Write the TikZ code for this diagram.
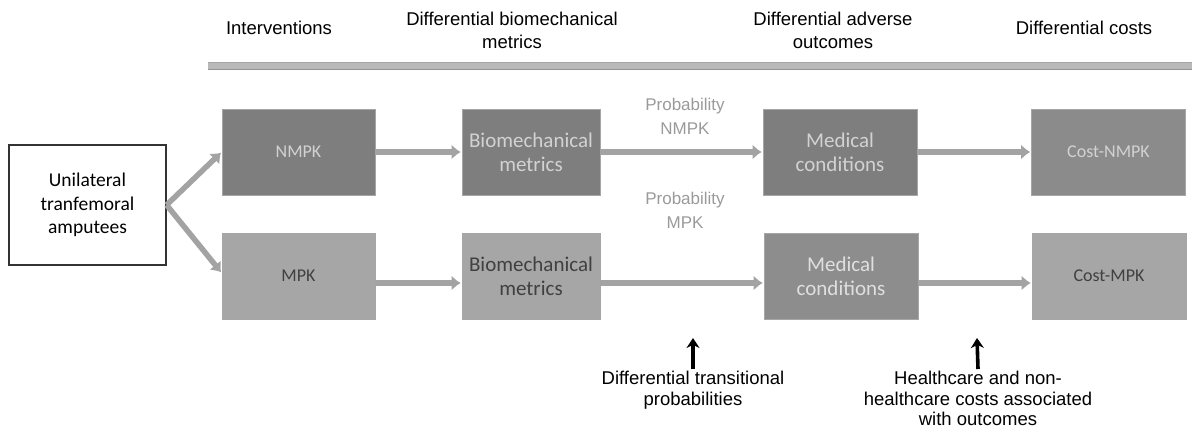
\documentclass[tikz,border=0pt]{standalone}
\usepackage{fontspec}
\setmainfont{Liberation Sans}
\newfontfamily\boxfont{Carlito}
\usetikzlibrary{arrows.meta}
\definecolor{topfill}{HTML}{7E7E7E}
\definecolor{botfill}{HTML}{A6A6A6}
\definecolor{arrowgray}{HTML}{A3A3A3}
\definecolor{probgray}{HTML}{9A9A9A}
\tikzset{
  header/.style={align=center, font=\fontsize{18.5}{23}\selectfont, text=black},
  stage/.style={draw=gray!70, line width=0.6pt, minimum width=154pt, minimum height=86pt,
    align=center, font=\boxfont\fontsize{18}{22}\selectfont, inner sep=1pt},
  bigtext/.style={font=\boxfont\fontsize{21}{24}\selectfont},
  toprow/.style={stage, fill=topfill, text=gray!35},
  botrow/.style={stage, fill=botfill, text=black!75},
  flow/.style={draw=arrowgray, line width=5.5pt, -{Latex[length=9pt,width=15pt]}, shorten >=1pt},
  problabel/.style={align=center, font=\fontsize{17}{24}\selectfont, text=probgray},
  driver/.style={draw=black, line width=3.6pt, -{Stealth[length=10pt,width=13pt]}},
  note/.style={align=center, font=\fontsize{18.5}{20.5}\selectfont, text=black, inner sep=1pt}
}
\begin{document}
\begin{tikzpicture}[x=1pt, y=-1pt]
\useasboundingbox (0,0) rectangle (1198,431);

% column headings
\node[header] (h1) at (279,28) {Interventions};
\node[header] (h2) at (512,30) {Differential biomechanical\\metrics};
\node[header] (h3) at (833,30) {Differential adverse\\outcomes};
\node[header] (h4) at (1084,28) {Differential costs};

% heading rule
\coordinate (ruleL) at (208,66);
\coordinate (ruleR) at (1192,66);
\draw[line width=7pt, gray!55] (ruleL) -- (ruleR);
\draw[line width=1pt, gray!85] ([yshift=-3.5pt]ruleL) -- ([yshift=-3.5pt]ruleR);
\draw[line width=1pt, gray!70] ([yshift=3.5pt]ruleL) -- ([yshift=3.5pt]ruleR);

% population
\node[draw=black!80, line width=1.2pt, fill=white, minimum width=157pt, minimum height=120pt,
  align=center, font=\boxfont\fontsize{19.5}{23.5}\selectfont] (pop) at (87.5,205)
  {Unilateral\\tranfemoral\\amputees};

% upper branch
\node[toprow, minimum width=153pt] (nmpk) at (298.5,152) {NMPK};
\node[toprow, bigtext, minimum width=138pt] (bio1) at (531,152) {Biomechanical\\metrics};
\node[toprow, bigtext] (med1) at (840,152) {Medical\\conditions};
\node[toprow, fill=topfill!90!white] (cost1) at (1108.5,152) {Cost-NMPK};

% lower branch
\node[botrow, minimum width=153pt] (mpk) at (298.5,276) {MPK};
\node[botrow, bigtext, minimum width=138pt] (bio2) at (531,276) {Biomechanical\\metrics};
\node[botrow, bigtext, fill=botfill!85!black, text=gray!25] (med2) at (841,276) {Medical\\conditions};
\node[botrow] (cost2) at (1109,276) {Cost-MPK};

% flows
\draw[flow] (pop.east) -- (nmpk.west);
\draw[flow] (pop.east) -- ([yshift=3pt]mpk.west);
\draw[flow] (nmpk.east) -- (bio1.west);
\draw[flow] (bio1.east) -- (med1.west);
\draw[flow] (med1.east) -- (cost1.west);
\draw[flow] ([yshift=-7pt]mpk.east) -- ([yshift=-7pt]bio2.west);
\draw[flow] ([yshift=-7pt]bio2.east) -- ([yshift=-7pt]med2.west);
\draw[flow] ([yshift=-7pt]med2.east) -- ([yshift=-7pt]cost2.west);

% transition probabilities
\node[problabel] (p1) at (685,116) {Probability\\NMPK};
\node[problabel] (p2) at (685,210) {Probability\\MPK};

% drivers below
\node[note, anchor=north] (n1) at (693,370) {Differential transitional\\probabilities};
\node[note, anchor=north] (n2) at (978,370) {Healthcare and non-\\healthcare costs associated\\with outcomes};
\coordinate (a1) at (693,338);
\coordinate (a2) at (977,338);
\draw[driver] ([yshift=1pt]n1.north) -- (a1);
\draw[driver] ([yshift=1pt]n2.north) -- (a2);
\end{tikzpicture}
\end{document}
